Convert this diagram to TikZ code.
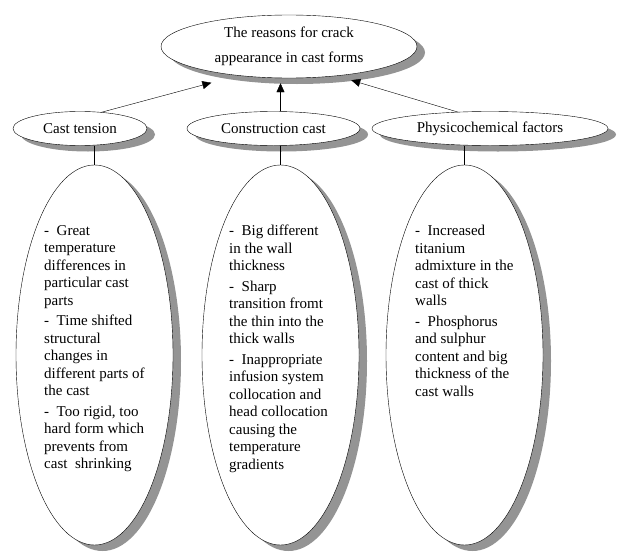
\documentclass[tikz,border=0pt]{standalone}
\usepackage{fontspec}
\setmainfont{Liberation Serif}
\usetikzlibrary{shapes, arrows.meta, positioning}

\tikzset{
  cause/.style={draw, ellipse, fill=white, inner sep=0pt, preaction={draw=none, fill=black!42, transform canvas={xshift=8pt, yshift=-6pt}}},
  notes/.style={align=left, anchor=north west, inner sep=0pt},
}

\begin{document}
\begin{tikzpicture}[x=1pt, y=-1pt, >={Triangle[length=9pt, width=8pt]}, font=\fontsize{15}{17.5}\selectfont]
    \useasboundingbox (0,0) rectangle (621,554);
    % Nodes
    \node (reasons) [cause, minimum width=256pt, minimum height=63pt, align=center] at (289,46.5) {The reasons for crack\\[7pt]appearance in cast forms};
    \node (tension) [cause, minimum width=134pt, minimum height=34pt] at (80,128.5) {Cast tension};
    \node (construction) [cause, minimum width=173pt, minimum height=34pt] at (273.5,128.5) {Construction cast};
    \node (physico) [cause, minimum width=236pt, minimum height=34pt] at (490,128.5) {Physicochemical factors};

    \node (tensionbody) [cause, minimum width=157pt, minimum height=380pt] at (94.5,355) {};
    \node (constructionbody) [cause, minimum width=157pt, minimum height=380pt] at (280.5,355) {};
    \node (physicobody) [cause, minimum width=157pt, minimum height=380pt] at (464.5,355) {};

    \node (tensiontext) [notes] at (44,225) {-\ \ Great\\temperature\\differences in\\particular cast\\parts\\[3pt]-\ \ Time shifted\\structural\\changes in\\different parts of\\the cast\\[3pt]-\ \ Too rigid, too\\hard form which\\prevents from\\cast\ \ shrinking};
    \node (constructiontext) [notes] at (229,225) {-\ \ Big different\\in the wall\\thickness\\[3pt]-\ \ Sharp\\transition fromt\\the thin into the\\thick walls\\[3pt]-\ \ Inappropriate\\infusion system\\collocation and\\head collocation\\causing the\\temperature\\gradients};
    \node (physicotext) [notes] at (415,225) {-\ \ Increased\\titanium\\admixture in the\\cast of thick\\walls\\[3pt]-\ \ Phosphorus\\and sulphur\\content and big\\thickness of the\\cast walls};

    % Arrows
    \draw[->] (tension.37) -- ([yshift=-11pt]reasons.198.5);
    \draw[->] (construction.north -| constructionbody.north) -- ([yshift=-5pt]reasons.south -| constructionbody.north);
    \draw[->] (physico.153) -- ([yshift=-6pt]reasons.336);

    \draw (tension.south -| tensionbody.north) -- (tensionbody.north);
    \draw (construction.south -| constructionbody.north) -- (constructionbody.north);
    \draw (physico.south -| physicobody.north) -- (physicobody.north);
\end{tikzpicture}
\end{document}
